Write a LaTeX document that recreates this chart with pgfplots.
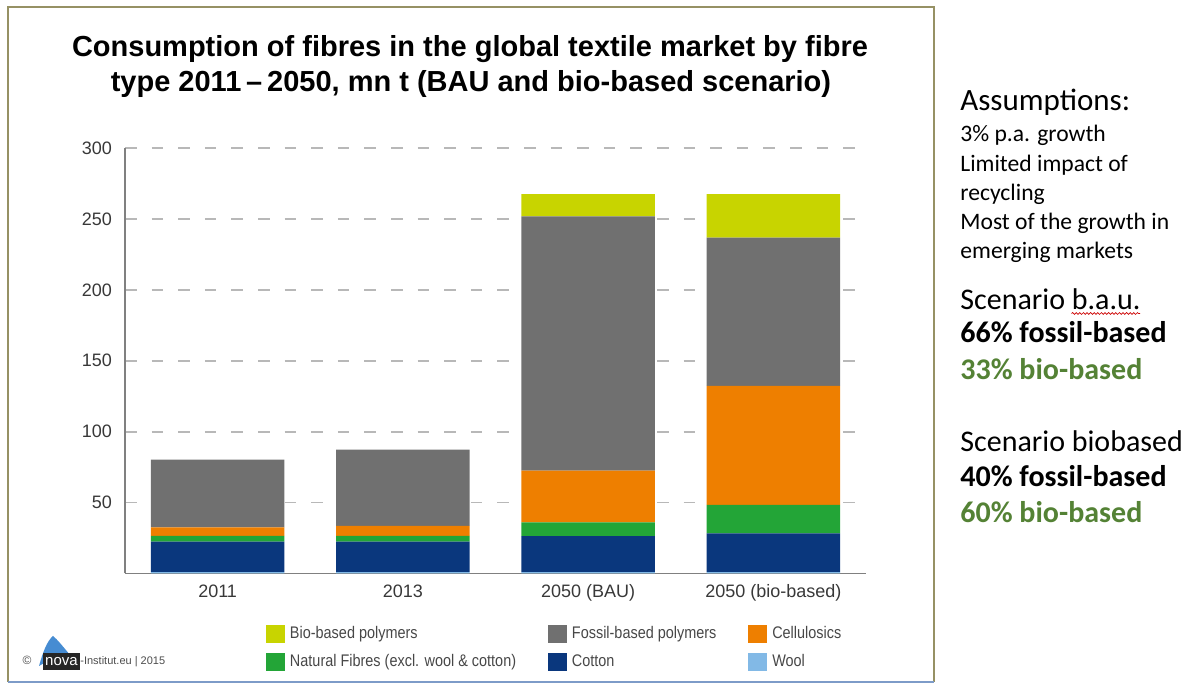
\documentclass[border=0pt]{standalone}
\usepackage{fontspec}
\setmainfont{Liberation Sans}
\newfontfamily\legfont[FakeStretch=0.86]{Liberation Sans}
\newfontfamily\calfont{Carlito}
\usepackage{pgfplots}
\pgfplotsset{compat=1.18}
\usetikzlibrary{decorations.pathmorphing}
\definecolor{cBio}{RGB}{200,212,0}
\definecolor{cFos}{RGB}{112,112,112}
\definecolor{cCel}{RGB}{238,127,0}
\definecolor{cNat}{RGB}{35,165,55}
\definecolor{cCot}{RGB}{10,55,125}
\definecolor{cWool}{RGB}{130,185,230}
\definecolor{cGreen}{RGB}{84,130,53}
\definecolor{cFrame}{RGB}{150,145,100}
\definecolor{cFrameB}{RGB}{125,155,200}
\definecolor{cLogo}{RGB}{70,140,210}
\newlength\wa \newlength\wb
\def\P#1#2{({#1*0.5pt},{(685-#2)*0.5pt})}
\begin{document}
\settowidth\wa{\calfont\fontsize{15}{18}\selectfont Scenario\ }%
\settowidth\wb{\calfont\fontsize{15}{18}\selectfont b.a.u.}%
\begin{tikzpicture}
\path[use as bounding box] (0,0) rectangle (597.5pt,342.5pt);
% frame
\draw[cFrame, line width=1pt] \P{8}{682} -- \P{8}{7} -- \P{934}{7} -- \P{934}{682};
\draw[cFrameB, line width=1pt] \P{8}{682} -- \P{934}{682};
% title
\node[anchor=base, font=\bfseries\fontsize{14.5}{17.5}\selectfont] at \P{470}{57} {Consumption of fibres in the global textile market by fibre};
\node[anchor=base, font=\bfseries\fontsize{14.5}{17.5}\selectfont] at \P{471}{92} {type 2011\,--\,2050, mn t (BAU and bio-based scenario)};
\begin{axis}[
  at={(62.5pt,55.75pt)}, anchor=south west, scale only axis,
  width=370.5pt, height=212.75pt,
  ybar stacked, bar width=66.75pt,
  xmin=-0.5, xmax=3.5, ymin=0, ymax=300,
  enlargelimits=false,
  xtick={0,1,2,3},
  xticklabels={2011,2013,2050 (BAU),2050 (bio-based)},
  ytick={50,100,150,200,250,300},
  axis x line*=bottom, axis y line*=left,
  axis line style={-, draw=black!50, line width=0.9pt},
  major tick length=0pt,
  ymajorgrids,
  grid style={black!28, line width=0.9pt, dash pattern=on 5.8pt off 7.5pt},
  /pgf/number format/assume math mode=true,
  tick label style={font=\fontsize{9}{10}\selectfont, text=black!78},
  yticklabel style={xshift=-3pt},
  xticklabel style={yshift=-2pt},
  reverse legend,
  legend columns=3,
  legend cell align=left,
  legend image code/.code={\fill[#1,draw=none] (0pt,-4.4pt) rectangle (9.5pt,4.4pt);},
  legend style={at={(0.19,-0.117)}, anchor=north west, draw=none, fill=none,
    inner sep=0pt, outer sep=0pt, row sep=3.2pt,
    font=\legfont\fontsize{8.4}{9}\selectfont, text=black!72,
    /tikz/every even column/.append style={column sep=14.2pt},
    /tikz/every odd column/.append style={column sep=1pt},
    nodes={inner sep=1.6pt}},
]
\addplot+[draw=none, fill=cWool] coordinates {(0,1) (1,1) (2,1) (3,1)};
\addplot+[draw=none, fill=cCot] coordinates {(0,21.4) (1,21.4) (2,25.4) (3,27.3)};
\addplot+[draw=none, fill=cNat] coordinates {(0,4.2) (1,4.2) (2,9.6) (3,20.1)};
\addplot+[draw=none, fill=cCel] coordinates {(0,5.9) (1,6.9) (2,36.5) (3,83.8)};
\addplot+[draw=none, fill=cFos] coordinates {(0,47.7) (1,53.8) (2,179.3) (3,104.6)};
\addplot+[draw=none, fill=cBio] coordinates {(0,0) (1,0) (2,15.6) (3,30.6)};
\legend{Wool, Cotton, Natural Fibres (excl. wool \& cotton), Cellulosics, Fossil-based polymers, Bio-based polymers}
\node[rotate=90, anchor=south west, inner sep=0.5pt, font=\fontsize{5}{6}\selectfont, text=black!70] at (rel axis cs:-0.004,0.012) {mn t};
\end{axis}
% logo
\fill[cLogo] \P{39}{666} .. controls \P{43}{652} and \P{47}{641} .. \P{53}{636} .. controls \P{58}{640} and \P{64}{648} .. \P{71}{656} .. controls \P{62}{652} and \P{54}{652} .. \P{46}{662} -- cycle;
\fill[black!85] \P{43}{653} rectangle \P{80}{670};
\node[anchor=base, text=white, inner sep=0, font=\fontsize{7.5}{8}\selectfont] at \P{61.5}{666} {nova};
\node[anchor=base west, inner sep=0, text=black!70, font=\fontsize{5.5}{6}\selectfont] at \P{80}{665} {-Institut.eu | 2015};
\node[anchor=base, inner sep=0, text=black!70, font=\fontsize{6}{6}\selectfont] at \P{27}{665} {\textcopyright};
% right text
\begin{scope}[every node/.style={anchor=base west, inner sep=0pt}]
\node[font=\calfont\fontsize{15.5}{18}\selectfont] at \P{960}{111} {Assumptions:};
\node[font=\calfont\fontsize{11.8}{14}\selectfont] at \P{960}{142} {3\% p.a. growth};
\node[font=\calfont\fontsize{11.8}{14}\selectfont] at \P{960}{172} {Limited impact of};
\node[font=\calfont\fontsize{11.8}{14}\selectfont] at \P{960}{201} {recycling};
\node[font=\calfont\fontsize{11.8}{14}\selectfont] at \P{960}{230} {Most of the growth in};
\node[font=\calfont\fontsize{11.8}{14}\selectfont] at \P{960}{259} {emerging markets};
\node[font=\calfont\fontsize{15}{18}\selectfont] at \P{960}{310} {Scenario b.a.u.};
\node[font=\calfont\bfseries\fontsize{15}{18}\selectfont] at \P{960}{343} {66\% fossil-based};
\node[font=\calfont\bfseries\fontsize{15}{18}\selectfont, text=cGreen] at \P{960}{380} {33\% bio-based};
\node[font=\calfont\fontsize{15}{18}\selectfont] at \P{960}{452} {Scenario biobased};
\node[font=\calfont\bfseries\fontsize{15}{18}\selectfont] at \P{960}{487} {40\% fossil-based};
\node[font=\calfont\bfseries\fontsize{15}{18}\selectfont, text=cGreen] at \P{960}{523} {60\% bio-based};
\end{scope}
\draw[red!80!black, line width=0.35pt, decorate, decoration={snake, amplitude=0.45pt, segment length=1.8pt}]
  ({480pt+\wa},{(685-313.5)*0.5pt}) -- ({480pt+\wa+\wb},{(685-313.5)*0.5pt});
\end{tikzpicture}
\end{document}
